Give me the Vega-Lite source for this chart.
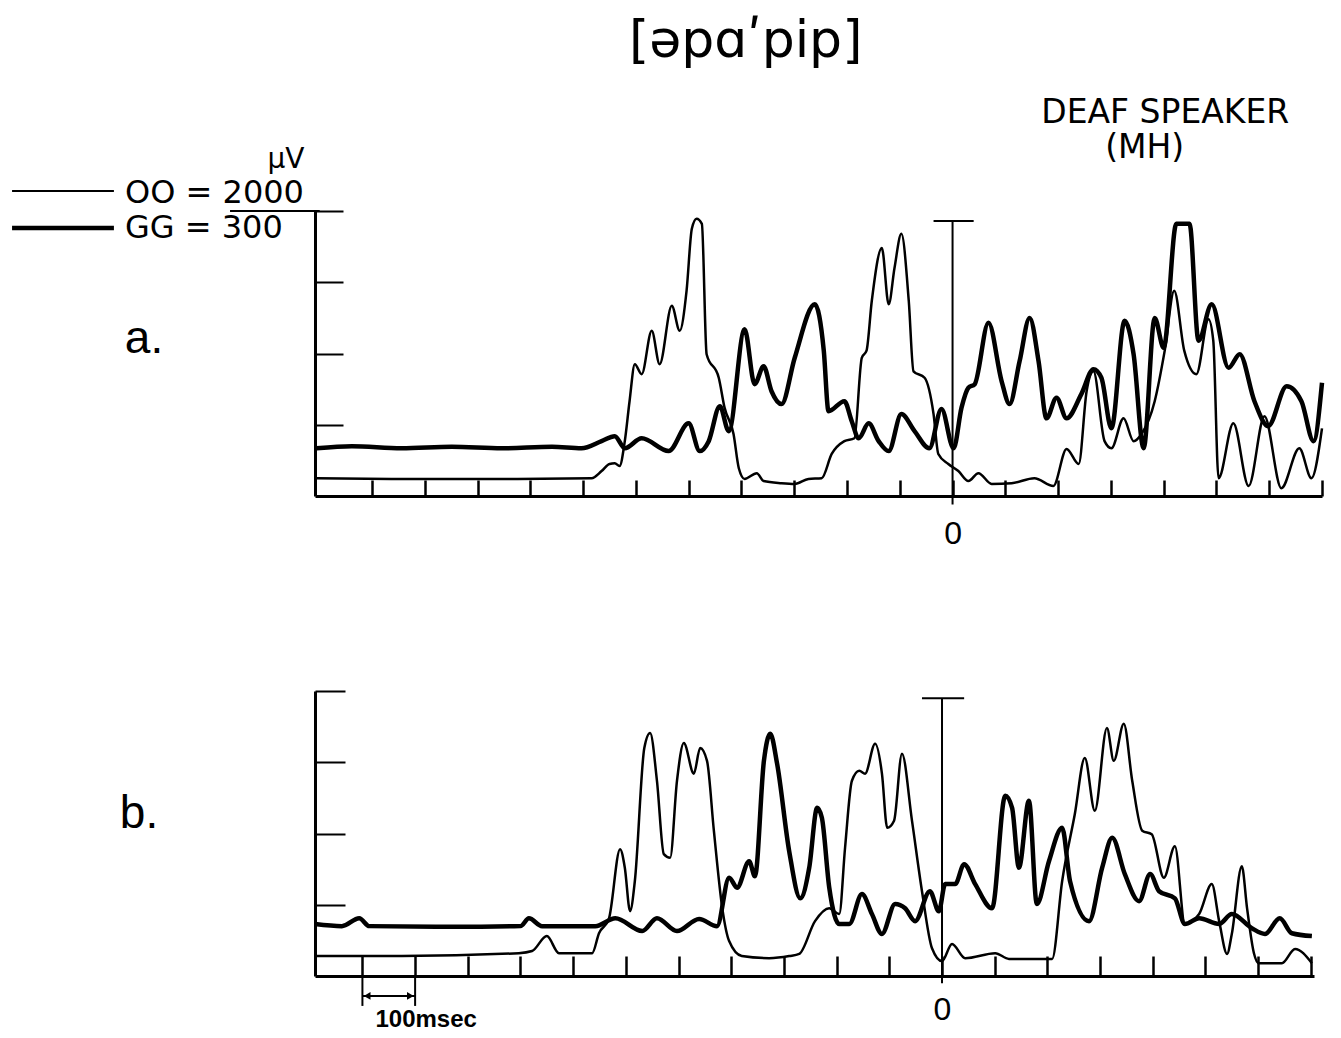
{
  "$schema": "https://vega.github.io/schema/vega-lite/v6.json",
  "background": "white",
  "padding": {"left": 9, "top": 14, "right": 5, "bottom": 5},
  "config": {"view": {"stroke": null}, "font": "Liberation Sans"},
  "spacing": 195,
  "bounds": "flush",
  "vconcat": [
    {
      "width": 1007,
      "height": 285,
      "layer": [
        {
          "data": {"values": [
            {"m":"OO","t":-1205,"v":0.25},{"m":"OO","t":-1044,"v":0.24},{"m":"OO","t":-854,"v":0.24},{"m":"OO","t":-684,"v":0.25},{"m":"OO","t":-665,"v":0.35},{"m":"OO","t":-650,"v":0.45},{"m":"OO","t":-640,"v":0.46},{"m":"OO","t":-631,"v":0.42},{"m":"OO","t":-621,"v":0.77},{"m":"OO","t":-612,"v":1.33},{"m":"OO","t":-602,"v":1.85},{"m":"OO","t":-589,"v":1.71},{"m":"OO","t":-570,"v":2.32},{"m":"OO","t":-555,"v":1.85},{"m":"OO","t":-532,"v":2.67},{"m":"OO","t":-517,"v":2.32},{"m":"OO","t":-504,"v":2.88},{"m":"OO","t":-494,"v":3.75},{"m":"OO","t":-485,"v":3.89},{"m":"OO","t":-475,"v":3.82},{"m":"OO","t":-466,"v":1.99},{"m":"OO","t":-443,"v":1.66},{"m":"OO","t":-432,"v":1.24},{"m":"OO","t":-415,"v":0.87},{"m":"OO","t":-405,"v":0.39},{"m":"OO","t":-394,"v":0.24},{"m":"OO","t":-371,"v":0.32},{"m":"OO","t":-358,"v":0.21},{"m":"OO","t":-324,"v":0.18},{"m":"OO","t":-299,"v":0.17},{"m":"OO","t":-273,"v":0.24},{"m":"OO","t":-248,"v":0.25},{"m":"OO","t":-229,"v":0.59},{"m":"OO","t":-205,"v":0.77},{"m":"OO","t":-186,"v":0.81},{"m":"OO","t":-172,"v":1.94},{"m":"OO","t":-163,"v":2.04},{"m":"OO","t":-153,"v":2.74},{"m":"OO","t":-134,"v":3.48},{"m":"OO","t":-121,"v":2.69},{"m":"OO","t":-110,"v":3.2},{"m":"OO","t":-97,"v":3.68},{"m":"OO","t":-83,"v":2.74},{"m":"OO","t":-74,"v":1.75},{"m":"OO","t":-53,"v":1.66},{"m":"OO","t":-36,"v":1.15},{"m":"OO","t":-27,"v":0.59},{"m":"OO","t":-8,"v":0.45},{"m":"OO","t":11,"v":0.35},{"m":"OO","t":30,"v":0.21},{"m":"OO","t":49,"v":0.32},{"m":"OO","t":74,"v":0.17},{"m":"OO","t":112,"v":0.18},{"m":"OO","t":155,"v":0.25},{"m":"OO","t":191,"v":0.14},{"m":"OO","t":216,"v":0.66},{"m":"OO","t":239,"v":0.45},{"m":"OO","t":254,"v":1.47},{"m":"OO","t":267,"v":1.75},{"m":"OO","t":288,"v":0.77},{"m":"OO","t":301,"v":0.67},{"m":"OO","t":324,"v":1.09},{"m":"OO","t":343,"v":0.77},{"m":"OO","t":358,"v":0.87},{"m":"OO","t":383,"v":1.33},{"m":"OO","t":402,"v":2.04},{"m":"OO","t":420,"v":2.88},{"m":"OO","t":439,"v":2.04},{"m":"OO","t":462,"v":1.71},{"m":"OO","t":485,"v":2.48},{"m":"OO","t":494,"v":2.18},{"m":"OO","t":504,"v":0.25},{"m":"OO","t":532,"v":1.02},{"m":"OO","t":561,"v":0.14},{"m":"OO","t":591,"v":1.12},{"m":"OO","t":623,"v":0.11},{"m":"OO","t":657,"v":0.67},{"m":"OO","t":680,"v":0.25},{"m":"OO","t":700,"v":0.95},
            {"m":"GG","t":-1205,"v":0.67},{"m":"GG","t":-1138,"v":0.70},{"m":"GG","t":-1044,"v":0.67},{"m":"GG","t":-949,"v":0.69},{"m":"GG","t":-854,"v":0.67},{"m":"GG","t":-759,"v":0.69},{"m":"GG","t":-703,"v":0.67},{"m":"GG","t":-665,"v":0.77},{"m":"GG","t":-640,"v":0.84},{"m":"GG","t":-621,"v":0.67},{"m":"GG","t":-589,"v":0.81},{"m":"GG","t":-538,"v":0.63},{"m":"GG","t":-500,"v":1.02},{"m":"GG","t":-479,"v":0.63},{"m":"GG","t":-462,"v":0.77},{"m":"GG","t":-441,"v":1.26},{"m":"GG","t":-424,"v":0.91},{"m":"GG","t":-394,"v":2.34},{"m":"GG","t":-375,"v":1.57},{"m":"GG","t":-358,"v":1.82},{"m":"GG","t":-343,"v":1.47},{"m":"GG","t":-324,"v":1.29},{"m":"GG","t":-299,"v":1.94},{"m":"GG","t":-261,"v":2.69},{"m":"GG","t":-244,"v":2.04},{"m":"GG","t":-235,"v":1.19},{"m":"GG","t":-205,"v":1.33},{"m":"GG","t":-191,"v":1.05},{"m":"GG","t":-178,"v":0.81},{"m":"GG","t":-159,"v":1.02},{"m":"GG","t":-140,"v":0.77},{"m":"GG","t":-121,"v":0.63},{"m":"GG","t":-97,"v":1.15},{"m":"GG","t":-72,"v":0.91},{"m":"GG","t":-44,"v":0.67},{"m":"GG","t":-21,"v":1.22},{"m":"GG","t":2,"v":0.67},{"m":"GG","t":17,"v":1.24},{"m":"GG","t":30,"v":1.52},{"m":"GG","t":42,"v":1.57},{"m":"GG","t":68,"v":2.43},{"m":"GG","t":93,"v":1.61},{"m":"GG","t":108,"v":1.29},{"m":"GG","t":127,"v":1.89},{"m":"GG","t":146,"v":2.5},{"m":"GG","t":163,"v":1.89},{"m":"GG","t":178,"v":1.09},{"m":"GG","t":197,"v":1.38},{"m":"GG","t":216,"v":1.09},{"m":"GG","t":244,"v":1.43},{"m":"GG","t":267,"v":1.78},{"m":"GG","t":282,"v":1.66},{"m":"GG","t":301,"v":0.95},{"m":"GG","t":326,"v":2.46},{"m":"GG","t":343,"v":1.99},{"m":"GG","t":362,"v":0.67},{"m":"GG","t":383,"v":2.5},{"m":"GG","t":400,"v":2.08},{"m":"GG","t":424,"v":3.82},{"m":"GG","t":449,"v":3.82},{"m":"GG","t":466,"v":2.18},{"m":"GG","t":491,"v":2.69},{"m":"GG","t":523,"v":1.8},{"m":"GG","t":544,"v":1.99},{"m":"GG","t":572,"v":1.33},{"m":"GG","t":598,"v":0.98},{"m":"GG","t":633,"v":1.54},{"m":"GG","t":661,"v":1.33},{"m":"GG","t":684,"v":0.77},{"m":"GG","t":700,"v":1.59}
          ]},
          "mark": {"type": "line", "interpolate": "monotone", "color": "black"},
          "encoding": {
            "x": {"field": "t", "type": "quantitative",
                  "scale": {"domain": [-1208, 700], "nice": false, "zero": false},
                  "axis": {"values": [-1100,-1000,-900,-800,-700,-600,-500,-400,-300,-200,-100,0,100,200,300,400,500,600,700],
                           "labelExpr": "datum.value === 0 ? '0' : ''", "labelOverlap": false, "labelFlush": false,
                           "tickSize": -16, "tickWidth": 2.5, "tickColor": "black",
                           "domainColor": "black", "domainWidth": 3,
                           "labelFontSize": 32, "labelFont": "Liberation Sans", "labelColor": "black", "labelPadding": 38,
                           "grid": false, "title": null}},
            "y": {"field": "v", "type": "quantitative",
                  "scale": {"domain": [0, 4], "nice": false, "zero": false},
                  "axis": {"values": [1, 2, 3, 4], "tickSize": -28, "tickWidth": 2, "tickColor": "black", "labels": false,
                           "domainColor": "black", "domainWidth": 3, "grid": false, "title": null}},
            "detail": {"field": "m"},
            "strokeWidth": {"field": "m", "type": "nominal", "scale": {"domain": ["OO", "GG"], "range": [2.5, 4.5]}, "legend": null}
          }
        },
        {
          "data": {"values": [{}]},
          "mark": {"type": "rule", "color": "black", "strokeWidth": 2},
          "encoding": {"x": {"datum": 0}, "y": {"datum": -0.12}, "y2": {"datum": 3.86}}
        },
        {
          "data": {"values": [{}]},
          "mark": {"type": "rule", "color": "black", "strokeWidth": 2},
          "encoding": {"x": {"datum": -36}, "x2": {"datum": 40}, "y": {"datum": 3.86}}
        },
        {
          "data": {"values": [{}]},
          "mark": {"type": "rule", "color": "black", "strokeWidth": 2},
          "encoding": {"x": {"datum": -1369}, "x2": {"datum": -1199}, "y": {"datum": 4}}
        },
        {
          "data": {"values": [{}]},
          "mark": {"type": "rule", "color": "black", "strokeWidth": 2},
          "encoding": {"x": {"datum": -1782}, "x2": {"datum": -1589}, "y": {"datum": 4.28}}
        },
        {
          "data": {"values": [{}]},
          "mark": {"type": "rule", "color": "black", "strokeWidth": 4.5},
          "encoding": {"x": {"datum": -1782}, "x2": {"datum": -1589}, "y": {"datum": 3.76}}
        },
        {
          "data": {"values": [{}]},
          "mark": {"type": "text", "font": "DejaVu Sans", "fontSize": 32, "align": "left", "baseline": "middle", "color": "black"},
          "encoding": {"x": {"datum": -1568}, "y": {"datum": 4.25}, "text": {"value": "OO = 2000"}}
        },
        {
          "data": {"values": [{}]},
          "mark": {"type": "text", "font": "DejaVu Sans", "fontSize": 32, "align": "left", "baseline": "middle", "color": "black"},
          "encoding": {"x": {"datum": -1568}, "y": {"datum": 3.76}, "text": {"value": "GG = 300"}}
        },
        {
          "data": {"values": [{}]},
          "mark": {"type": "text", "font": "DejaVu Sans", "fontSize": 28, "align": "center", "baseline": "middle", "color": "black"},
          "encoding": {"x": {"datum": -1263}, "y": {"datum": 4.71}, "text": {"value": "µV"}}
        },
        {
          "data": {"values": [{}]},
          "mark": {"type": "text", "font": "Liberation Sans", "fontSize": 46, "align": "center", "baseline": "middle", "color": "black"},
          "encoding": {"x": {"datum": -1532}, "y": {"datum": 2.2}, "text": {"value": "a."}}
        },
        {
          "data": {"values": [{}]},
          "mark": {"type": "text", "font": "DejaVu Sans", "fontSize": 52, "align": "center", "baseline": "middle", "color": "black"},
          "encoding": {"x": {"datum": -392}, "y": {"datum": 6.39}, "text": {"value": "[əpɑʹpip]"}}
        },
        {
          "data": {"values": [{}]},
          "mark": {"type": "text", "font": "DejaVu Sans", "fontSize": 33, "align": "center", "baseline": "middle", "color": "black"},
          "encoding": {"x": {"datum": 403}, "y": {"datum": 5.38}, "text": {"value": "DEAF SPEAKER"}}
        },
        {
          "data": {"values": [{}]},
          "mark": {"type": "text", "font": "DejaVu Sans", "fontSize": 33, "align": "center", "baseline": "middle", "color": "black"},
          "encoding": {"x": {"datum": 364}, "y": {"datum": 4.88}, "text": {"value": "(MH)"}}
        }
      ]
    },
    {
      "width": 999,
      "height": 285,
      "layer": [
        {
          "data": {"values": [
            {"m":"OO","t":-1190,"v":0.28},{"m":"OO","t":-1025,"v":0.28},{"m":"OO","t":-803,"v":0.32},{"m":"OO","t":-778,"v":0.35},{"m":"OO","t":-750,"v":0.56},{"m":"OO","t":-727,"v":0.32},{"m":"OO","t":-664,"v":0.32},{"m":"OO","t":-651,"v":0.6},{"m":"OO","t":-632,"v":0.81},{"m":"OO","t":-611,"v":1.78},{"m":"OO","t":-602,"v":1.52},{"m":"OO","t":-592,"v":0.91},{"m":"OO","t":-583,"v":1.33},{"m":"OO","t":-565,"v":3.2},{"m":"OO","t":-554,"v":3.41},{"m":"OO","t":-541,"v":2.74},{"m":"OO","t":-528,"v":1.71},{"m":"OO","t":-516,"v":1.66},{"m":"OO","t":-503,"v":2.74},{"m":"OO","t":-490,"v":3.27},{"m":"OO","t":-471,"v":2.84},{"m":"OO","t":-459,"v":3.2},{"m":"OO","t":-446,"v":3.02},{"m":"OO","t":-433,"v":2.04},{"m":"OO","t":-417,"v":0.95},{"m":"OO","t":-404,"v":0.49},{"m":"OO","t":-380,"v":0.28},{"m":"OO","t":-328,"v":0.25},{"m":"OO","t":-290,"v":0.28},{"m":"OO","t":-271,"v":0.31},{"m":"OO","t":-241,"v":0.77},{"m":"OO","t":-214,"v":0.95},{"m":"OO","t":-195,"v":0.87},{"m":"OO","t":-184,"v":1.8},{"m":"OO","t":-171,"v":2.74},{"m":"OO","t":-157,"v":2.88},{"m":"OO","t":-146,"v":2.84},{"m":"OO","t":-127,"v":3.26},{"m":"OO","t":-114,"v":2.84},{"m":"OO","t":-104,"v":2.08},{"m":"OO","t":-91,"v":2.18},{"m":"OO","t":-76,"v":3.12},{"m":"OO","t":-57,"v":2.18},{"m":"OO","t":-38,"v":1.19},{"m":"OO","t":-19,"v":0.39},{"m":"OO","t":0,"v":0.21},{"m":"OO","t":19,"v":0.45},{"m":"OO","t":44,"v":0.25},{"m":"OO","t":101,"v":0.32},{"m":"OO","t":127,"v":0.24},{"m":"OO","t":209,"v":0.24},{"m":"OO","t":228,"v":1.33},{"m":"OO","t":252,"v":2.27},{"m":"OO","t":271,"v":3.06},{"m":"OO","t":290,"v":2.32},{"m":"OO","t":313,"v":3.48},{"m":"OO","t":326,"v":3.02},{"m":"OO","t":345,"v":3.54},{"m":"OO","t":361,"v":2.74},{"m":"OO","t":380,"v":2.04},{"m":"OO","t":398,"v":1.99},{"m":"OO","t":421,"v":1.38},{"m":"OO","t":442,"v":1.82},{"m":"OO","t":461,"v":0.73},{"m":"OO","t":488,"v":0.87},{"m":"OO","t":512,"v":1.29},{"m":"OO","t":526,"v":0.77},{"m":"OO","t":541,"v":0.31},{"m":"OO","t":550,"v":0.59},{"m":"OO","t":569,"v":1.54},{"m":"OO","t":579,"v":0.95},{"m":"OO","t":592,"v":0.32},{"m":"OO","t":601,"v":0.18},{"m":"OO","t":645,"v":0.18},{"m":"OO","t":670,"v":0.38},{"m":"OO","t":702,"v":0.18},
            {"m":"GG","t":-1190,"v":0.73},{"m":"GG","t":-1139,"v":0.70},{"m":"GG","t":-1106,"v":0.81},{"m":"GG","t":-1087,"v":0.70},{"m":"GG","t":-930,"v":0.69},{"m":"GG","t":-800,"v":0.70},{"m":"GG","t":-784,"v":0.81},{"m":"GG","t":-759,"v":0.70},{"m":"GG","t":-658,"v":0.70},{"m":"GG","t":-620,"v":0.81},{"m":"GG","t":-569,"v":0.63},{"m":"GG","t":-541,"v":0.81},{"m":"GG","t":-503,"v":0.63},{"m":"GG","t":-461,"v":0.8},{"m":"GG","t":-427,"v":0.70},{"m":"GG","t":-404,"v":1.38},{"m":"GG","t":-389,"v":1.24},{"m":"GG","t":-366,"v":1.61},{"m":"GG","t":-355,"v":1.4},{"m":"GG","t":-338,"v":3.02},{"m":"GG","t":-326,"v":3.4},{"m":"GG","t":-313,"v":2.98},{"m":"GG","t":-290,"v":1.75},{"m":"GG","t":-269,"v":1.09},{"m":"GG","t":-252,"v":1.52},{"m":"GG","t":-237,"v":2.36},{"m":"GG","t":-228,"v":2.22},{"m":"GG","t":-214,"v":1.24},{"m":"GG","t":-195,"v":0.73},{"m":"GG","t":-176,"v":0.73},{"m":"GG","t":-152,"v":1.15},{"m":"GG","t":-133,"v":0.87},{"m":"GG","t":-114,"v":0.59},{"m":"GG","t":-89,"v":1.01},{"m":"GG","t":-70,"v":0.95},{"m":"GG","t":-51,"v":0.77},{"m":"GG","t":-23,"v":1.19},{"m":"GG","t":-6,"v":0.91},{"m":"GG","t":6,"v":1.29},{"m":"GG","t":25,"v":1.29},{"m":"GG","t":42,"v":1.57},{"m":"GG","t":63,"v":1.29},{"m":"GG","t":95,"v":0.95},{"m":"GG","t":120,"v":2.53},{"m":"GG","t":133,"v":2.36},{"m":"GG","t":146,"v":1.52},{"m":"GG","t":165,"v":2.46},{"m":"GG","t":180,"v":1.01},{"m":"GG","t":203,"v":1.61},{"m":"GG","t":228,"v":2.08},{"m":"GG","t":243,"v":1.33},{"m":"GG","t":279,"v":0.77},{"m":"GG","t":304,"v":1.52},{"m":"GG","t":323,"v":1.94},{"m":"GG","t":347,"v":1.43},{"m":"GG","t":374,"v":1.05},{"m":"GG","t":395,"v":1.43},{"m":"GG","t":412,"v":1.19},{"m":"GG","t":442,"v":1.09},{"m":"GG","t":461,"v":0.73},{"m":"GG","t":488,"v":0.81},{"m":"GG","t":526,"v":0.73},{"m":"GG","t":550,"v":0.87},{"m":"GG","t":588,"v":0.67},{"m":"GG","t":613,"v":0.59},{"m":"GG","t":641,"v":0.81},{"m":"GG","t":664,"v":0.6},{"m":"GG","t":702,"v":0.56}
          ]},
          "mark": {"type": "line", "interpolate": "monotone", "color": "black"},
          "encoding": {
            "x": {"field": "t", "type": "quantitative",
                  "scale": {"domain": [-1190, 706], "nice": false, "zero": false},
                  "axis": {"values": [-1100,-1000,-900,-800,-700,-600,-500,-400,-300,-200,-100,0,100,200,300,400,500,600,700],
                           "labelExpr": "datum.value === 0 ? '0' : ''", "labelOverlap": false, "labelFlush": false,
                           "tickSize": -20, "tickWidth": 2.5, "tickColor": "black",
                           "domainColor": "black", "domainWidth": 3,
                           "labelFontSize": 32, "labelFont": "Liberation Sans", "labelColor": "black", "labelPadding": 38,
                           "grid": false, "title": null}},
            "y": {"field": "v", "type": "quantitative",
                  "scale": {"domain": [0, 4], "nice": false, "zero": false},
                  "axis": {"values": [1, 2, 3, 4], "tickSize": -30, "tickWidth": 2, "tickColor": "black", "labels": false,
                           "domainColor": "black", "domainWidth": 3, "grid": false, "title": null}},
            "detail": {"field": "m"},
            "strokeWidth": {"field": "m", "type": "nominal", "scale": {"domain": ["OO", "GG"], "range": [2.5, 4.5]}, "legend": null}
          }
        },
        {
          "data": {"values": [{}]},
          "mark": {"type": "rule", "color": "black", "strokeWidth": 2},
          "encoding": {"x": {"datum": 0}, "y": {"datum": -0.1}, "y2": {"datum": 3.9}}
        },
        {
          "data": {"values": [{}]},
          "mark": {"type": "rule", "color": "black", "strokeWidth": 2},
          "encoding": {"x": {"datum": -38}, "x2": {"datum": 42}, "y": {"datum": 3.9}}
        },
        {
          "data": {"values": [{}]},
          "mark": {"type": "rule", "color": "black", "strokeWidth": 2},
          "encoding": {"x": {"datum": -1100}, "x2": {"datum": -1000}, "y": {"datum": -0.28}}
        },
        {
          "data": {"values": [{}]},
          "mark": {"type": "rule", "color": "black", "strokeWidth": 2},
          "encoding": {"x": {"datum": -1100}, "y": {"datum": -0.02}, "y2": {"datum": -0.42}}
        },
        {
          "data": {"values": [{}]},
          "mark": {"type": "rule", "color": "black", "strokeWidth": 2},
          "encoding": {"x": {"datum": -1000}, "y": {"datum": -0.02}, "y2": {"datum": -0.42}}
        },
        {
          "data": {"values": [{}]},
          "mark": {"type": "point", "shape": "triangle-left", "filled": true, "color": "black", "size": 60, "opacity": 1},
          "encoding": {"x": {"datum": -1091}, "y": {"datum": -0.28}}
        },
        {
          "data": {"values": [{}]},
          "mark": {"type": "point", "shape": "triangle-right", "filled": true, "color": "black", "size": 60, "opacity": 1},
          "encoding": {"x": {"datum": -1009}, "y": {"datum": -0.28}}
        },
        {
          "data": {"values": [{}]},
          "mark": {"type": "text", "font": "Liberation Sans", "fontSize": 24, "fontWeight": "bold", "align": "center", "baseline": "middle", "color": "black"},
          "encoding": {"x": {"datum": -979}, "y": {"datum": -0.62}, "text": {"value": "100msec"}}
        },
        {
          "data": {"values": [{}]},
          "mark": {"type": "text", "font": "Liberation Sans", "fontSize": 46, "align": "center", "baseline": "middle", "color": "black"},
          "encoding": {"x": {"datum": -1524}, "y": {"datum": 2.27}, "text": {"value": "b."}}
        }
      ]
    }
  ]
}
